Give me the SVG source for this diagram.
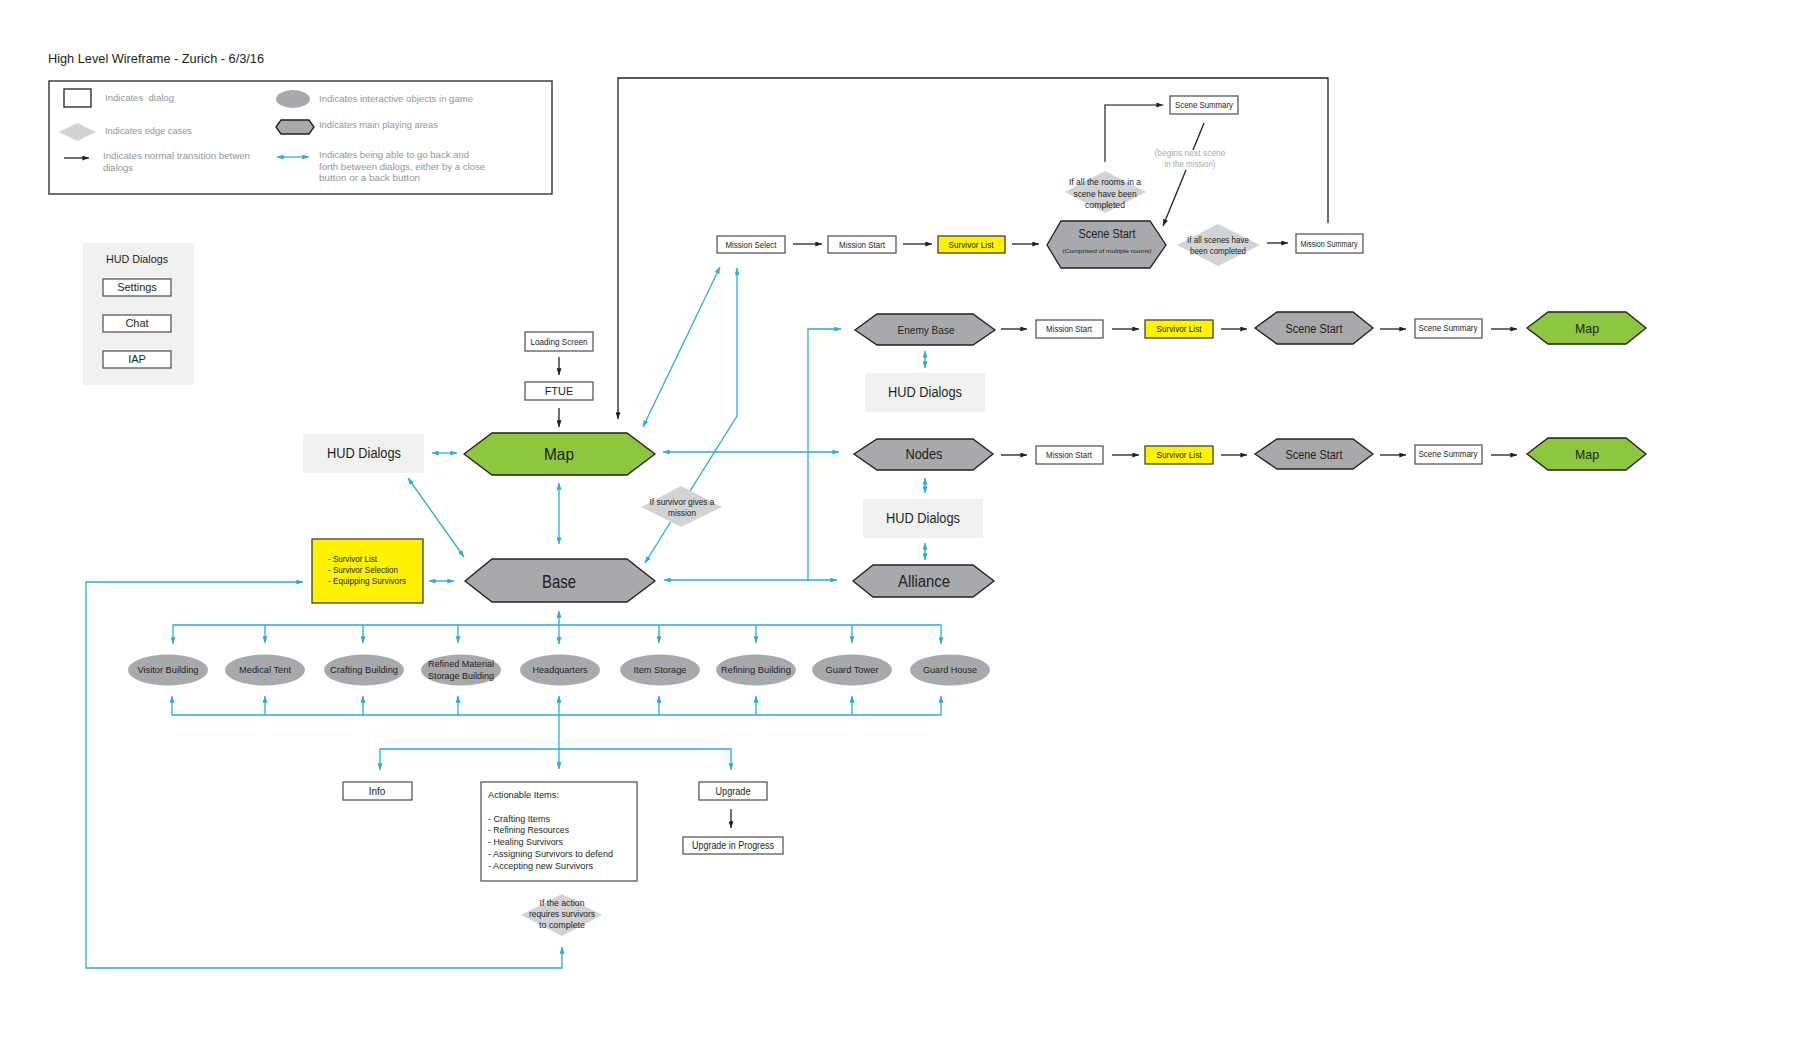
<svg xmlns="http://www.w3.org/2000/svg" width="1793" height="1046" viewBox="0 0 1793 1046">
<defs>
<style>
text{font-family:"Liberation Sans",Arial,sans-serif;fill:#231f20}
.g{fill:#939598}
.lg{fill:#a7a9ac}
.box{fill:#fff;stroke:#58595b;stroke-width:1.3}
.ybox{fill:#fff200;stroke:#414042;stroke-width:1.3}
.hex{fill:#a7a9ac;stroke:#231f20;stroke-width:1.3}
.ghex{fill:#8dc63f;stroke:#231f20;stroke-width:1.3}
.dia{fill:#d1d3d4}
.ell{fill:#a7a9ac}
.hud{fill:#f1f1f2}
.bl{stroke:#29abe2;stroke-width:1.3;fill:none}
.bk{stroke:#231f20;stroke-width:1.3;fill:none}
.d2{marker-start:url(#ab);marker-end:url(#ab)}
.d1{marker-end:url(#ab)}
.k1{marker-end:url(#ak)}
</style>
<marker id="ab" viewBox="0 0 8 6" refX="8" refY="3" markerWidth="7" markerHeight="5" markerUnits="userSpaceOnUse" orient="auto-start-reverse"><path d="M0,0L8,3L0,6z" fill="#29abe2"/></marker>
<marker id="ak" viewBox="0 0 8 6" refX="8" refY="3" markerWidth="7" markerHeight="5" markerUnits="userSpaceOnUse" orient="auto-start-reverse"><path d="M0,0L8,3L0,6z" fill="#231f20"/></marker>
</defs>
<rect width="1793" height="1046" fill="#fff"/>
<text x="48" y="63" font-size="13.5" textLength="216" lengthAdjust="spacingAndGlyphs">High Level Wireframe - Zurich - 6/3/16</text>

<g id="legend">
<rect x="49" y="81" width="503" height="113" fill="none" stroke="#414042" stroke-width="1.5"/>
<rect x="64" y="89" width="27" height="18" fill="#fff" stroke="#231f20" stroke-width="1.3"/>
<text class="g" x="105" y="101" font-size="9.5" textLength="69" lengthAdjust="spacingAndGlyphs" style="white-space:pre">Indicates  dialog</text>
<polygon class="dia" points="59,132 77,123 96,132 77,141"/>
<text class="g" x="105" y="134" font-size="9.5" textLength="87" lengthAdjust="spacingAndGlyphs">Indicates edge cases</text>
<path class="bk k1" d="M64,158H89"/>
<text class="g" x="103" y="159" font-size="9.5" textLength="147" lengthAdjust="spacingAndGlyphs">Indicates normal transition betwen</text>
<text class="g" x="103" y="171" font-size="9.5" textLength="30" lengthAdjust="spacingAndGlyphs">dialogs</text>
<ellipse class="ell" cx="293" cy="99" rx="17" ry="9"/>
<text class="g" x="319" y="102" font-size="9.5" textLength="154" lengthAdjust="spacingAndGlyphs">Indicates interactive objects in game</text>
<polygon class="hex" points="276,127 281,120 309,120 314,127 309,134 281,134"/>
<text class="g" x="319" y="128" font-size="9.5" textLength="119" lengthAdjust="spacingAndGlyphs">Indicates main playing areas</text>
<path class="bl d2" d="M277,157H309"/>
<text class="g" x="319" y="158" font-size="9.5" textLength="150" lengthAdjust="spacingAndGlyphs">Indicates being able to go back and</text>
<text class="g" x="319" y="170" font-size="9.5" textLength="166" lengthAdjust="spacingAndGlyphs">forth between dialogs, either by a close</text>
<text class="g" x="319" y="181" font-size="9.5" textLength="101" lengthAdjust="spacingAndGlyphs">button or a back button</text>
</g>

<g id="hud-panel">
<rect class="hud" x="83" y="243" width="111" height="142"/>
<text x="137" y="263" font-size="11" text-anchor="middle" textLength="62" lengthAdjust="spacingAndGlyphs">HUD Dialogs</text>
<rect class="box" x="103" y="279" width="68" height="17"/>
<text x="137" y="291" font-size="11" text-anchor="middle">Settings</text>
<rect class="box" x="103" y="315" width="68" height="17"/>
<text x="137" y="327" font-size="11" text-anchor="middle">Chat</text>
<rect class="box" x="103" y="351" width="68" height="17"/>
<text x="137" y="363" font-size="11" text-anchor="middle">IAP</text>
</g>

<g id="connectors">
<path class="bk k1" d="M559,357V375"/>
<path class="bk k1" d="M559,408V427"/>
<path class="bk k1" d="M1328,223V78H618V419"/>
<path class="bk k1" d="M793,244H822"/>
<path class="bk k1" d="M903,244H932"/>
<path class="bk k1" d="M1012,244H1039"/>
<path class="k1" d="M1105,162V105H1163" fill="none" stroke="#58595b" stroke-width="1.6"/>
<path class="bk" d="M1204,123L1193,150"/>
<path class="bk k1" d="M1186,170L1163,226"/>
<path class="bk k1" d="M1267,243H1288"/>
<path class="bk k1" d="M1001,329H1027"/>
<path class="bk k1" d="M1112,329H1139"/>
<path class="bk k1" d="M1221,329H1247"/>
<path class="bk k1" d="M1380,329H1406"/>
<path class="bk k1" d="M1491,329H1517"/>
<path class="bk k1" d="M1001,455H1027"/>
<path class="bk k1" d="M1112,455H1139"/>
<path class="bk k1" d="M1221,455H1247"/>
<path class="bk k1" d="M1380,455H1406"/>
<path class="bk k1" d="M1491,455H1517"/>
<path class="bk k1" d="M731,809V828"/>

<path class="bl d2" d="M432,453H457"/>
<path class="bl d2" d="M408,478L464,557"/>
<path class="bl d2" d="M559,483V544"/>
<path class="bl d2" d="M429,581H454"/>
<path class="bl d2" d="M303,582H86V968H562V947"/>
<path class="bl d2" d="M643,427L720,267"/>
<path class="bl d2" d="M645,563L737,416V268"/>
<path class="bl d2" d="M663,452H839"/>
<path class="bl d2" d="M664,580H837"/>
<path class="bl d1" d="M808,580V329H841"/>
<path class="bl d2" d="M925,351V368"/>
<path class="bl d2" d="M925,478V493"/>
<path class="bl d2" d="M925,543V560"/>

<path class="bl d2" d="M173,644V625H941V644"/>
<path class="bl d1" d="M265,625V643"/>
<path class="bl d1" d="M363,625V643"/>
<path class="bl d1" d="M458,625V643"/>
<path class="bl d1" d="M659,625V643"/>
<path class="bl d1" d="M756,625V643"/>
<path class="bl d1" d="M852,625V643"/>
<path class="bl d2" d="M559,611V644"/>
<path class="bl d2" d="M172,696V715H941V696"/>
<path class="bl d1" d="M265,715V696"/>
<path class="bl d1" d="M363,715V696"/>
<path class="bl d1" d="M458,715V696"/>
<path class="bl d1" d="M659,715V696"/>
<path class="bl d1" d="M756,715V696"/>
<path class="bl d1" d="M852,715V696"/>
<path class="bl d2" d="M559,696V769"/>
<path class="bl d2" d="M380,770V749H731V770"/>
</g>

<g id="loading-screen">
<rect class="box" x="525" y="332" width="68" height="19"/>
<text x="559" y="345" font-size="9" text-anchor="middle" textLength="57" lengthAdjust="spacingAndGlyphs">Loading Screen</text>
</g>
<g id="ftue">
<rect class="box" x="525" y="382" width="68" height="18"/>
<text x="559" y="395" font-size="11" text-anchor="middle">FTUE</text>
</g>
<g id="map">
<polygon class="ghex" points="464,454 492,433 627,433 655,454 627,475 492,475"/>
<text x="559" y="460" font-size="16.5" text-anchor="middle" textLength="30" lengthAdjust="spacingAndGlyphs">Map</text>
</g>
<g id="hud-left">
<rect class="hud" x="303" y="434" width="121" height="39"/>
<text x="364" y="458" font-size="14" text-anchor="middle" textLength="74" lengthAdjust="spacingAndGlyphs">HUD Dialogs</text>
</g>
<g id="survivor-box">
<rect class="ybox" x="312" y="539" width="111" height="64"/>
<text x="328" y="562" font-size="9" fill="#3c3c3b" textLength="49" lengthAdjust="spacingAndGlyphs">- Survivor List</text>
<text x="328" y="573" font-size="9" fill="#3c3c3b" textLength="70" lengthAdjust="spacingAndGlyphs">- Survivor Selection</text>
<text x="328" y="584" font-size="9" fill="#3c3c3b" textLength="78" lengthAdjust="spacingAndGlyphs">- Equipping Survivors</text>
</g>
<g id="base">
<polygon class="hex" points="465,581 492,559 627,559 655,581 627,602 492,602"/>
<text x="559" y="588" font-size="18.5" text-anchor="middle" textLength="34" lengthAdjust="spacingAndGlyphs">Base</text>
</g>
<g id="survivor-gives-mission">
<polygon class="dia" points="641,507 681,486 722,507 681,527"/>
<text x="682" y="505" font-size="9" text-anchor="middle" textLength="65" lengthAdjust="spacingAndGlyphs">If survivor gives a</text>
<text x="682" y="516" font-size="9" text-anchor="middle" textLength="28" lengthAdjust="spacingAndGlyphs">mission</text>
</g>

<g id="mission-select">
<rect class="box" x="717" y="236" width="68" height="17"/>
<text x="751" y="248" font-size="9" text-anchor="middle" textLength="51" lengthAdjust="spacingAndGlyphs">Mission Select</text>
</g>
<g id="mission-start-top">
<rect class="box" x="828" y="236" width="68" height="17"/>
<text x="862" y="248" font-size="9" text-anchor="middle" textLength="46" lengthAdjust="spacingAndGlyphs">Mission Start</text>
</g>
<g id="survivor-list-top">
<rect class="ybox" x="938" y="236" width="67" height="17"/>
<text x="971" y="248" font-size="9" text-anchor="middle" textLength="45" lengthAdjust="spacingAndGlyphs">Survivor List</text>
</g>
<g id="scene-start-top">
<polygon class="hex" points="1047,245 1061,221 1150,221 1166,245 1150,268 1061,268"/>
<text x="1107" y="238" font-size="12" text-anchor="middle" fill="#414042" textLength="57" lengthAdjust="spacingAndGlyphs">Scene Start</text>
<text x="1107" y="253" font-size="6" text-anchor="middle" fill="#414042" textLength="89" lengthAdjust="spacingAndGlyphs">(Comprised of multiple rooms)</text>
</g>
<g id="rooms-completed">
<polygon class="dia" points="1065,192 1105,171 1146,192 1105,213"/>
<text x="1105" y="185" font-size="9" text-anchor="middle" textLength="72" lengthAdjust="spacingAndGlyphs">If all the rooms in a</text>
<text x="1105" y="197" font-size="9" text-anchor="middle" textLength="63" lengthAdjust="spacingAndGlyphs">scene have been</text>
<text x="1105" y="208" font-size="9" text-anchor="middle" textLength="40" lengthAdjust="spacingAndGlyphs">completed</text>
</g>
<g id="scene-summary-top">
<rect class="box" x="1170" y="96" width="68" height="18"/>
<text x="1204" y="108" font-size="9" text-anchor="middle" textLength="58" lengthAdjust="spacingAndGlyphs">Scene Summary</text>
</g>
<g id="begins-next">
<text class="lg" x="1190" y="156" font-size="9" text-anchor="middle" textLength="71" lengthAdjust="spacingAndGlyphs">(begins next scene</text>
<text class="lg" x="1190" y="167" font-size="9" text-anchor="middle" textLength="51" lengthAdjust="spacingAndGlyphs">in the mission)</text>
</g>
<g id="all-scenes">
<polygon class="dia" points="1177,245 1218,224 1260,245 1218,266"/>
<text x="1218" y="243" font-size="9" text-anchor="middle" textLength="62" lengthAdjust="spacingAndGlyphs">If all scenes have</text>
<text x="1218" y="254" font-size="9" text-anchor="middle" textLength="56" lengthAdjust="spacingAndGlyphs">been completed</text>
</g>
<g id="mission-summary">
<rect class="box" x="1296" y="234" width="67" height="19"/>
<text x="1329" y="247" font-size="8.5" text-anchor="middle" textLength="57" lengthAdjust="spacingAndGlyphs">Mission Summary</text>
</g>

<g id="enemy-base">
<polygon class="hex" points="855,330 877,314 973,314 995,330 973,345 877,345"/>
<text x="926" y="334" font-size="11.5" text-anchor="middle" textLength="57" lengthAdjust="spacingAndGlyphs">Enemy Base</text>
</g>
<g id="hud-enemy">
<rect class="hud" x="865" y="373" width="120" height="39"/>
<text x="925" y="397" font-size="14" text-anchor="middle" textLength="74" lengthAdjust="spacingAndGlyphs">HUD Dialogs</text>
</g>
<g id="nodes">
<polygon class="hex" points="854,454 877,439 973,439 993,454 973,470 877,470"/>
<text x="924" y="459" font-size="14" text-anchor="middle" textLength="37" lengthAdjust="spacingAndGlyphs">Nodes</text>
</g>
<g id="hud-nodes">
<rect class="hud" x="863" y="499" width="120" height="39"/>
<text x="923" y="523" font-size="14" text-anchor="middle" textLength="74" lengthAdjust="spacingAndGlyphs">HUD Dialogs</text>
</g>
<g id="alliance">
<polygon class="hex" points="853,581 873,565 973,565 994,581 973,597 873,597"/>
<text x="924" y="587" font-size="16" text-anchor="middle" textLength="52" lengthAdjust="spacingAndGlyphs">Alliance</text>
</g>

<g id="row1-mission-start">
<rect class="box" x="1036" y="320" width="67" height="18"/>
<text x="1069" y="332" font-size="9" text-anchor="middle" textLength="46" lengthAdjust="spacingAndGlyphs">Mission Start</text>
</g>
<g id="row1-survivor-list">
<rect class="ybox" x="1145" y="320" width="68" height="18"/>
<text x="1179" y="332" font-size="9" text-anchor="middle" textLength="45" lengthAdjust="spacingAndGlyphs">Survivor List</text>
</g>
<g id="row1-scene-start">
<polygon class="hex" points="1255,328 1277,312 1353,312 1373,328 1353,344 1277,344"/>
<text x="1314" y="333" font-size="12.5" text-anchor="middle" textLength="57" lengthAdjust="spacingAndGlyphs">Scene Start</text>
</g>
<g id="row1-scene-summary">
<rect class="box" x="1415" y="319" width="67" height="19"/>
<text x="1448" y="331" font-size="9" text-anchor="middle" textLength="59" lengthAdjust="spacingAndGlyphs">Scene Summary</text>
</g>
<g id="row1-map">
<polygon class="ghex" points="1527,328 1548,312 1626,312 1646,328 1626,344 1548,344"/>
<text x="1587" y="333" font-size="13.5" text-anchor="middle" textLength="24" lengthAdjust="spacingAndGlyphs">Map</text>
</g>

<g id="row2-mission-start">
<rect class="box" x="1036" y="446" width="67" height="18"/>
<text x="1069" y="458" font-size="9" text-anchor="middle" textLength="46" lengthAdjust="spacingAndGlyphs">Mission Start</text>
</g>
<g id="row2-survivor-list">
<rect class="ybox" x="1145" y="446" width="68" height="18"/>
<text x="1179" y="458" font-size="9" text-anchor="middle" textLength="45" lengthAdjust="spacingAndGlyphs">Survivor List</text>
</g>
<g id="row2-scene-start">
<polygon class="hex" points="1255,454 1277,439 1353,439 1373,454 1353,469 1277,469"/>
<text x="1314" y="459" font-size="12.5" text-anchor="middle" textLength="57" lengthAdjust="spacingAndGlyphs">Scene Start</text>
</g>
<g id="row2-scene-summary">
<rect class="box" x="1415" y="445" width="67" height="19"/>
<text x="1448" y="457" font-size="9" text-anchor="middle" textLength="59" lengthAdjust="spacingAndGlyphs">Scene Summary</text>
</g>
<g id="row2-map">
<polygon class="ghex" points="1527,454 1548,438 1626,438 1646,454 1626,470 1548,470"/>
<text x="1587" y="459" font-size="13.5" text-anchor="middle" textLength="24" lengthAdjust="spacingAndGlyphs">Map</text>
</g>

<g id="visitor-building"><ellipse class="ell" cx="168" cy="670" rx="40" ry="15.5"/><text x="168" y="673" font-size="9" text-anchor="middle" textLength="61" lengthAdjust="spacingAndGlyphs">Visitor Building</text></g>
<g id="medical-tent"><ellipse class="ell" cx="265" cy="670" rx="40" ry="15.5"/><text x="265" y="673" font-size="9" text-anchor="middle" textLength="52" lengthAdjust="spacingAndGlyphs">Medical Tent</text></g>
<g id="crafting-building"><ellipse class="ell" cx="364" cy="670" rx="40" ry="15.5"/><text x="364" y="673" font-size="9" text-anchor="middle" textLength="68" lengthAdjust="spacingAndGlyphs">Crafting Building</text></g>
<g id="refined-material"><ellipse class="ell" cx="461" cy="670" rx="40" ry="15.5"/><text x="461" y="667" font-size="9" text-anchor="middle" textLength="66" lengthAdjust="spacingAndGlyphs">Refined Material</text><text x="461" y="679" font-size="9" text-anchor="middle" textLength="66" lengthAdjust="spacingAndGlyphs">Storage Building</text></g>
<g id="headquarters"><ellipse class="ell" cx="560" cy="670" rx="40" ry="15.5"/><text x="560" y="673" font-size="9" text-anchor="middle" textLength="55" lengthAdjust="spacingAndGlyphs">Headquarters</text></g>
<g id="item-storage"><ellipse class="ell" cx="660" cy="670" rx="40" ry="15.5"/><text x="660" y="673" font-size="9" text-anchor="middle" textLength="53" lengthAdjust="spacingAndGlyphs">Item Storage</text></g>
<g id="refining-building"><ellipse class="ell" cx="756" cy="670" rx="40" ry="15.5"/><text x="756" y="673" font-size="9" text-anchor="middle" textLength="70" lengthAdjust="spacingAndGlyphs">Refining Building</text></g>
<g id="guard-tower"><ellipse class="ell" cx="852" cy="670" rx="40" ry="15.5"/><text x="852" y="673" font-size="9" text-anchor="middle" textLength="53" lengthAdjust="spacingAndGlyphs">Guard Tower</text></g>
<g id="guard-house"><ellipse class="ell" cx="950" cy="670" rx="40" ry="15.5"/><text x="950" y="673" font-size="9" text-anchor="middle" textLength="54" lengthAdjust="spacingAndGlyphs">Guard House</text></g>

<g id="info">
<rect class="box" x="343" y="782" width="69" height="18"/>
<text x="377" y="795" font-size="10" text-anchor="middle">Info</text>
</g>
<g id="actionable-items">
<rect class="box" x="481" y="782" width="156" height="99"/>
<text x="488" y="798" font-size="9.5" textLength="71" lengthAdjust="spacingAndGlyphs">Actionable Items:</text>
<text x="488" y="822" font-size="9.5" textLength="62" lengthAdjust="spacingAndGlyphs">- Crafting Items</text>
<text x="488" y="833" font-size="9.5" textLength="81" lengthAdjust="spacingAndGlyphs">- Refining Resources</text>
<text x="488" y="845" font-size="9.5" textLength="75" lengthAdjust="spacingAndGlyphs">- Healing Survivors</text>
<text x="488" y="857" font-size="9.5" textLength="125" lengthAdjust="spacingAndGlyphs">- Assigning Survivors to defend</text>
<text x="488" y="869" font-size="9.5" textLength="105" lengthAdjust="spacingAndGlyphs">- Accepting new Survivors</text>
</g>
<g id="upgrade">
<rect class="box" x="699" y="782" width="68" height="18"/>
<text x="733" y="795" font-size="10" text-anchor="middle" textLength="35" lengthAdjust="spacingAndGlyphs">Upgrade</text>
</g>
<g id="upgrade-progress">
<rect class="box" x="683" y="837" width="100" height="17"/>
<text x="733" y="849" font-size="10" text-anchor="middle" textLength="82" lengthAdjust="spacingAndGlyphs">Upgrade in Progress</text>
</g>
<g id="action-requires">
<polygon class="dia" points="521,915 562,894 602,915 562,936"/>
<text x="562" y="906" font-size="9" text-anchor="middle" textLength="45" lengthAdjust="spacingAndGlyphs">If the action</text>
<text x="562" y="917" font-size="9" text-anchor="middle" textLength="66" lengthAdjust="spacingAndGlyphs">requires survivors</text>
<text x="562" y="928" font-size="9" text-anchor="middle" textLength="46" lengthAdjust="spacingAndGlyphs">to complete</text>
</g>
</svg>
